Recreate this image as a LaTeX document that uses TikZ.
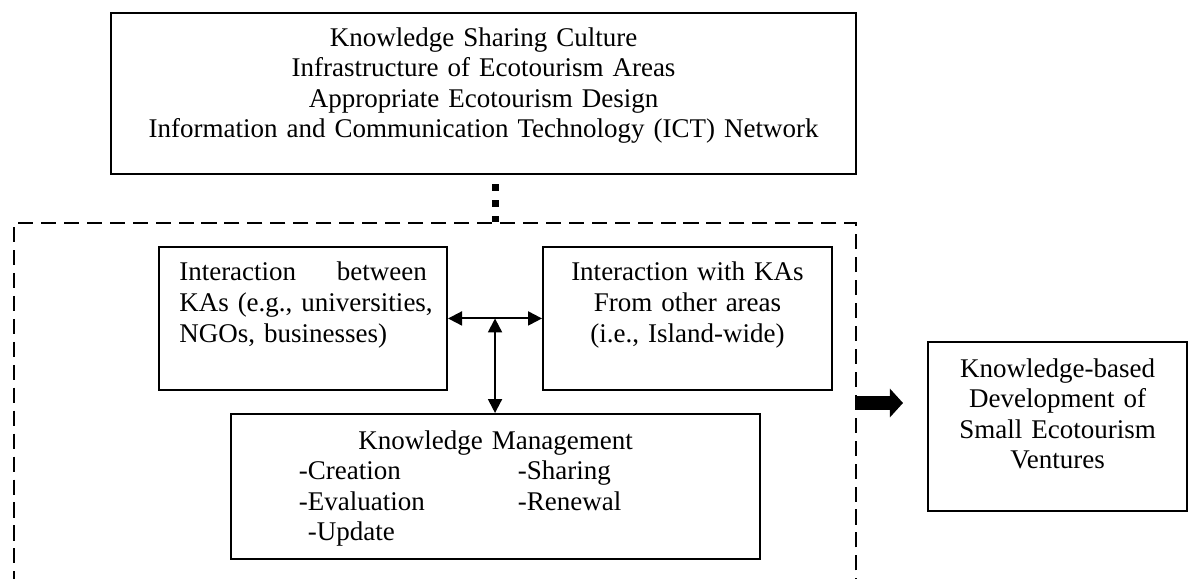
\documentclass[tikz,border=0pt]{standalone}
\usepackage{fontspec}
\setmainfont{Liberation Serif}
\usetikzlibrary{arrows.meta}

\begin{document}
\begin{tikzpicture}[x=0.4444pt,y=-0.4444pt]
   \useasboundingbox (0,0) rectangle (1188,579);
   \tikzstyle{box}=[draw, line width=0.9pt, anchor=north west, inner sep=0pt, font=\fontsize{12}{13.6}\selectfont]
   \tikzstyle{link}=[line width=0.9pt, {Triangle[length=6.2pt,width=6.2pt]}-{Triangle[length=6.2pt,width=6.2pt]}]
   \tikzstyle{dots}=[line width=3.1pt, dash pattern=on 3.1pt off 4pt, dash phase=3.1pt]
   \tikzstyle{push}=[line width=5.8pt, -{Triangle[length=5.8pt,width=12.4pt]}]
   \node[box, dash pattern=on 6.7pt off 3.5pt, minimum width=374.2pt, minimum height=178pt] (zone) at (13,222) {};
   \node[box, align=center, text width=331.1pt, text height=14.7pt, text depth=56.9pt] (ctx) at (110,12)
      {Knowledge Sharing Culture\\ Infrastructure of Ecotourism Areas\\ Appropriate Ecotourism Design\\ Information and Communication Technology (ICT) Network};
   \node[box, align=left, inner xsep=9pt, text width=110pt, text height=15.1pt, text depth=48.4pt] (between) at (158,246)
      {Interaction\hfill between\\ \mbox{KAs (e.g., universities,}\\ NGOs, businesses)};
   \node[box, align=center, text width=128.4pt, text height=15.1pt, text depth=48.4pt] (other) at (542,246)
      {Interaction with KAs\\ From other areas\\ (i.e., Island-wide)};
   \node[box, align=left, text width=235.1pt, text height=15.6pt, text depth=48.9pt] (km) at (230,413)
      {\hfill Knowledge Management\hfill\null\\
       \hspace*{30.2pt}\makebox[97.3pt][l]{-Creation}-Sharing\\
       \hspace*{30.2pt}\makebox[97.3pt][l]{-Evaluation}-Renewal\\
       \hspace*{30.2pt} -Update};
   \node[box, align=center, text width=115.1pt, text height=15.6pt, text depth=59.6pt] (outcome) at (927,341)
      {Knowledge-based\\ Development of\\ Small Ecotourism\\ Ventures};
   % links between the boxes
   \path (between.east) -- (other.west) coordinate[midway] (hub);
   \draw[link] (between.east) -- (other.west);
   \draw[link] (hub) -- (hub |- km.north);
   \draw[dots] (hub |- ctx.south) -- (hub |- zone.north);
   \coordinate (tip) at (903,403);
   \draw[push] (zone.east |- tip) -- (tip);
\end{tikzpicture}
\end{document}
